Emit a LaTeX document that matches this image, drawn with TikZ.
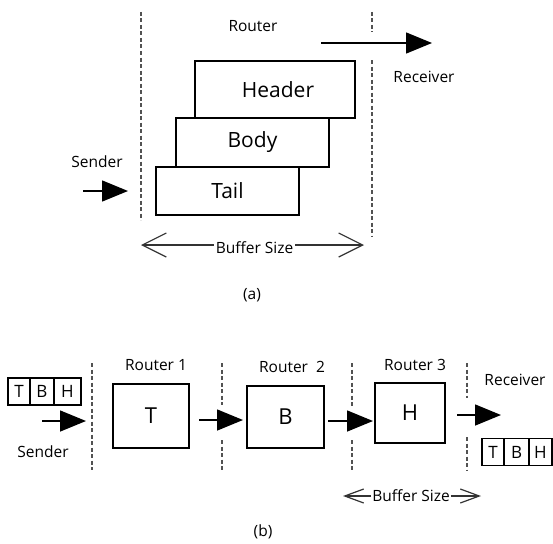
\documentclass[tikz,border=0pt]{standalone}
\usepackage{fontspec}
\setmainfont{Open Sans}
\usetikzlibrary{arrows.meta}

\tikzset{
  lbl/.style={inner sep=0pt, font=\fontsize{15.5}{18}\selectfont},
  bigbox/.style={draw, line width=1.4pt, inner sep=0pt, font=\fontsize{21}{24}\selectfont},
  flitbox/.style={draw, line width=1.4pt, inner sep=0pt, font=\fontsize{22}{26}\selectfont},
  cell/.style={draw, line width=1.3pt, inner sep=0pt, minimum height=27pt, font=\fontsize{17}{20}\selectfont},
  divider/.style={draw=black!68, line width=2.3pt, dash pattern=on 4pt off 2.5pt},
  flow/.style={line width=1.5pt, -{Triangle[length=26pt,width=21pt]}},
  sizebarb/.style={draw=black!80, line width=1.2pt, -{Straight Barb[length=24pt,width=24pt,line width=1.2pt]}},
  sizebarbsmall/.style={draw=black!80, line width=1.2pt, -{Straight Barb[length=19pt,width=14pt,line width=1.2pt]}}
}

\begin{document}
\begin{tikzpicture}[x=1pt, y=-1pt]
\useasboundingbox (0,0) rectangle (553,543);

% ---------- (a) single router holding a whole packet ----------
\draw[divider] (141,12) -- (141,220);
\draw[divider] (372,12) -- (372,32);
\draw[divider] (372,60) -- (372,237);

\node[lbl] (routerA) at (253,26) {Router};
\node[lbl] (recvA) at (424,77) {Receiver};
\node[lbl] (sendA) at (97,162) {Sender};

\node[bigbox, minimum width=160pt, minimum height=57pt] (header) at (275,89.5) {\hspace*{6pt}Header};
\node[bigbox, minimum width=153pt, minimum height=49pt] (body) at (252.5,142.5) {Body};
\node[bigbox, minimum width=143pt, minimum height=48pt] (tail) at (227.5,191) {Tail};

\coordinate (sinA0) at (83,191);
\coordinate (sinA1) at (128,191);
\draw[flow] (sinA0) -- (sinA1);
\coordinate (outA0) at (321,43);
\coordinate (outA1) at (432,43);
\draw[flow] (outA0) -- (outA1);

\node[lbl, fill=white, inner xsep=2pt] (bufA) at (254.5,248) {Buffer Size};
\coordinate (bufAL) at (141,245);
\coordinate (bufAR) at (364,245);
\draw[sizebarb] (bufA.west |- bufAL) -- (bufAL);
\draw[sizebarb] (bufA.east |- bufAR) -- (bufAR);

\node[lbl] (capA) at (252,295) {(a)};

% ---------- (b) flits spread over three routers ----------
\draw[divider] (92,363) -- (92,470);
\draw[divider] (222,363) -- (222,405);
\draw[divider] (222,440) -- (222,470);
\draw[divider] (352,363) -- (352,407);
\draw[divider] (352,440) -- (352,470);
\draw[divider] (467,363) -- (467,398);
\draw[divider] (467,437) -- (467,470);

% packet at the sender
\node[cell, minimum width=22pt] (sT) at (19,391.5) {T};
\node[cell, minimum width=24pt] (sB) at (42,391.5) {B};
\node[cell, minimum width=27pt] (sH) at (67.5,391.5) {H};

% packet at the receiver
\node[cell, minimum width=22pt] (rT) at (493,452) {T};
\node[cell, minimum width=25pt] (rB) at (516.5,452) {B};
\node[cell, minimum width=23pt] (rH) at (540.5,452) {H};

\node[lbl] (sendB) at (43,452) {Sender};
\node[lbl] (r1) at (156,365) {Router 1};
\node[lbl] (r2) at (292,367) {Router~ 2};
\node[lbl] (r3) at (415,365) {Router 3};
\node[lbl] (recvB) at (515,380) {Receiver};

\node[flitbox, minimum width=76pt, minimum height=64pt] (fT) at (151,416) {T};
\node[flitbox, minimum width=77pt, minimum height=62pt] (fB) at (285.5,417) {B};
\node[flitbox, minimum width=70pt, minimum height=60pt] (fH) at (410,413) {H};

\coordinate (a1s) at (42,421);
\coordinate (a1e) at (86,421);
\draw[flow] (a1s) -- (a1e);
\coordinate (a2s) at (199,420);
\coordinate (a2e) at (243,420);
\draw[flow] (a2s) -- (a2e);
\coordinate (a3s) at (328,421);
\coordinate (a3e) at (373,421);
\draw[flow] (a3s) -- (a3e);
\coordinate (a4s) at (457,415);
\coordinate (a4e) at (501,415);
\draw[flow] (a4s) -- (a4e);

\node[lbl, fill=white, inner xsep=1pt] (bufB) at (411,496) {Buffer Size};
\coordinate (bufBL) at (343,496);
\coordinate (bufBR) at (481,496);
\draw[sizebarbsmall] (bufB.west |- bufBL) -- (bufBL);
\draw[sizebarbsmall] (bufB.east |- bufBR) -- (bufBR);

\node[lbl] (capB) at (263,532) {(b)};
\end{tikzpicture}
\end{document}
